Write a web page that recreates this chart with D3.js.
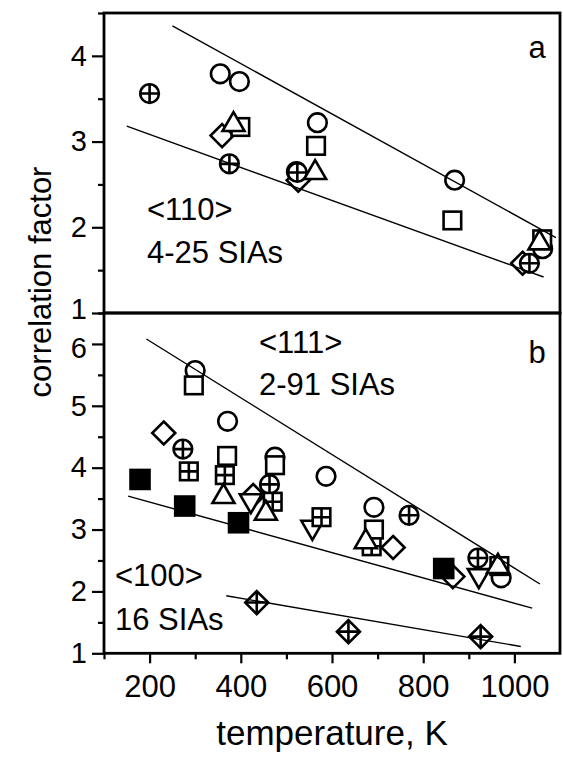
<!DOCTYPE html>
<html lang="en">
<head>
<meta charset="utf-8"/>
<style>
body { margin: 0; background: #fff; }
svg { font-family: "Liberation Sans", Arial, sans-serif; }
.axis .domain { display: none; }
</style>
</head>
<body>
<svg width="563" height="757"></svg>
<script src="https://d3js.org/d3.v7.min.js"></script>
<script>
// tick values
var xMajor = [200, 400, 600, 800, 1000];
var xMinor = [100, 300, 500, 700, 900];
var yMajorA = [1, 2, 3, 4];
var yMinorA = [1.5, 2.5, 3.5, 4.5];
var yMajorB = [1, 2, 3, 4, 5, 6];
var yMinorB = [1.5, 2.5, 3.5, 4.5, 5.5, 6.5];

// panel a : <110> clusters, [temperature, correlation factor]
var aDiamond = [[359, 3.07], [526, 2.55], [1018, 1.58]];
var aCircle = [[355, 3.79], [397, 3.70], [522, 2.65], [568, 3.22], [869, 2.55], [1062, 1.75]];
var aCirclePlus = [[200, 3.56], [375, 2.74], [524, 2.64], [1033, 1.58]];
var aSquare = [[399, 3.17], [565, 2.95], [864, 2.08], [1061, 1.86]];
var aTriangle = [[384, 3.21], [563, 2.65], [1055, 1.83]];
var aLineUpper = [[250, 4.35], [1091, 1.88]];
var aLineLower = [[150, 3.18], [1064, 1.42]];

// panel b : <111> and <100> clusters
var bDiamond = [[231, 4.56], [427, 3.55], [734, 2.71], [865, 2.24]];
var bCircle = [[300, 5.57], [371, 4.75], [475, 4.17], [587, 3.86], [692, 3.36], [971, 2.22]];
var bCirclePlus = [[273, 4.30], [463, 3.73], [769, 3.23], [920, 2.54]];
var bTriangleDown = [[422, 3.45], [557, 3.02], [922, 2.24]];
var bSquarePlus = [[286, 3.94], [365, 3.88], [470, 3.45], [577, 3.20], [687, 2.73]];
var bSquare = [[297, 5.33], [370, 4.19], [475, 4.04], [692, 3.00], [967, 2.41]];
var bTriangle = [[362, 3.55], [455, 3.28], [674, 2.82], [964, 2.42]];
var bFilledSquare = [[179, 3.81], [277, 3.38], [395, 3.11], [845, 2.37]];
var bDiamondPlus = [[435, 1.82], [636, 1.35], [926, 1.27]];
var bLineUpper = [[193, 6.08], [1056, 2.12]];
var bLineMiddle = [[153, 3.54], [1039, 1.73]];
var bLineLower = [[368, 1.93], [1014, 1.11]];

var svg = d3.select("svg"),
    left = 104, right = 560,
    topA = 13, bottomA = 313, topB = 313, bottomB = 653.3;

var x = d3.scaleLinear().domain([100, 1100]).range([left, right]);
var yA = d3.scaleLinear().domain([1, 4.5]).range([bottomA, topA]);
var yB = d3.scaleLinear().domain([1, 6.5]).range([bottomB, topB]);

// marker shapes, centred on 0,0
var shapes = {
  circle: function(g) { g.append("circle").attr("r", 9.3).attr("fill", "#fff"); },
  circlePlus: function(g) {
    g.append("circle").attr("r", 9.3).attr("fill", "#fff");
    g.append("path").attr("d", "M-9.3,0H9.3M0,-9.3V9.3").attr("fill", "none");
  },
  square: function(g) { g.append("rect").attr("x", -8.8).attr("y", -8.8).attr("width", 17.6).attr("height", 17.6).attr("fill", "#fff"); },
  squarePlus: function(g) {
    g.append("rect").attr("x", -8.8).attr("y", -8.8).attr("width", 17.6).attr("height", 17.6).attr("fill", "#fff");
    g.append("path").attr("d", "M-8.8,0H8.8M0,-8.8V8.8").attr("fill", "none");
  },
  filledSquare: function(g) { g.append("rect").attr("x", -9.5).attr("y", -9.5).attr("width", 19).attr("height", 19).attr("fill", "#000"); },
  diamond: function(g) { g.append("path").attr("d", "M0,-11.5L11.5,0L0,11.5L-11.5,0Z").attr("fill", "#fff"); },
  diamondPlus: function(g) {
    g.append("path").attr("d", "M0,-11.5L11.5,0L0,11.5L-11.5,0Z").attr("fill", "#fff");
    g.append("path").attr("d", "M-11.5,0H11.5M0,-11.5V11.5").attr("fill", "none");
  },
  triangle: function(g) { g.append("path").attr("d", "M0,-11.5L11,7.5L-11,7.5Z").attr("fill", "#fff"); },
  triangleDown: function(g) { g.append("path").attr("d", "M0,11.5L11,-7.5L-11,-7.5Z").attr("fill", "#fff"); }
};

function drawMarkers(data, shape, y) {
  svg.append("g").selectAll("g")
    .data(data)
    .enter().append("g")
    .attr("transform", function(d) { return "translate(" + x(d[0]) + "," + y(d[1]) + ")"; })
    .attr("stroke", "#000")
    .attr("stroke-width", 2.6)
    .each(function() { shapes[shape](d3.select(this)); });
}

function drawLine(data, y) {
  svg.append("path")
    .datum(data)
    .attr("fill", "none")
    .attr("stroke", "#000")
    .attr("stroke-width", 1.4)
    .attr("d", d3.line().x(function(d) { return x(d[0]); }).y(function(d) { return y(d[1]); }));
}

function styleAxis(g, size) {
  g.selectAll("line").attr("stroke-width", 2.2);
  g.selectAll("text").attr("font-size", size).attr("font-family", "Liberation Sans, Arial, sans-serif").attr("fill", "#000");
}

// the "1" of panel a and the "6" of panel b sit close together, nudge them apart
function yAxis(y, major, minor, nudge) {
  svg.append("g")
    .attr("class", "axis")
    .attr("transform", "translate(" + left + ",0)")
    .call(d3.axisLeft(y).tickValues(major).tickSize(12).tickPadding(5).tickFormat(d3.format("d")))
    .call(styleAxis, 29)
    .selectAll("text")
    .attr("dy", function(d) { return d === nudge.value ? nudge.dy : "0.32em"; });
  svg.append("g")
    .attr("class", "axis")
    .attr("transform", "translate(" + left + ",0)")
    .call(d3.axisLeft(y).tickValues(minor).tickSize(6).tickFormat(""))
    .selectAll("line").attr("stroke-width", 2.2);
}

// markers (order matters for overlaps)
drawMarkers(aDiamond, "diamond", yA);
drawMarkers(aCircle, "circle", yA);
drawMarkers(aCirclePlus, "circlePlus", yA);
drawMarkers(aSquare, "square", yA);
drawMarkers(aTriangle, "triangle", yA);

drawMarkers(bDiamond, "diamond", yB);
drawMarkers(bCircle, "circle", yB);
drawMarkers(bCirclePlus, "circlePlus", yB);
drawMarkers(bTriangleDown, "triangleDown", yB);
drawMarkers(bSquarePlus, "squarePlus", yB);
drawMarkers(bSquare, "square", yB);
drawMarkers(bTriangle, "triangle", yB);
drawMarkers(bFilledSquare, "filledSquare", yB);
drawMarkers(bDiamondPlus, "diamondPlus", yB);

// fitted lines
drawLine(aLineUpper, yA);
drawLine(aLineLower, yA);
drawLine(bLineUpper, yB);
drawLine(bLineMiddle, yB);
drawLine(bLineLower, yB);

// frames
svg.append("rect").attr("x", left).attr("y", topA).attr("width", right - left).attr("height", bottomA - topA)
  .attr("fill", "none").attr("stroke", "#000").attr("stroke-width", 2.8);
svg.append("rect").attr("x", left).attr("y", topB).attr("width", right - left).attr("height", bottomB - topB)
  .attr("fill", "none").attr("stroke", "#000").attr("stroke-width", 2.8);

yAxis(yA, yMajorA, yMinorA, {value: 1, dy: "0.18em"});
yAxis(yB, yMajorB, yMinorB, {value: 6, dy: "0.46em"});

// x axis
svg.append("g")
  .attr("class", "axis")
  .attr("transform", "translate(0," + bottomB + ")")
  .call(d3.axisBottom(x).tickValues(xMajor).tickSize(10).tickPadding(12).tickFormat(d3.format("d")))
  .call(styleAxis, 31);
svg.append("g")
  .attr("class", "axis")
  .attr("transform", "translate(0," + bottomB + ")")
  .call(d3.axisBottom(x).tickValues(xMinor).tickSize(6).tickFormat(""))
  .selectAll("line").attr("stroke-width", 2.2);

// axis titles
svg.append("text")
  .attr("x", (left + right) / 2)
  .attr("y", 745)
  .attr("text-anchor", "middle")
  .attr("font-size", 35)
  .text("temperature, K");

svg.append("text")
  .attr("transform", "translate(51,282) rotate(-90)")
  .attr("text-anchor", "middle")
  .attr("font-size", 31)
  .text("correlation factor");

// annotations
var notes = [
  {t: "a", x: 537, y: 58, anchor: "middle"},
  {t: "<110>", x: 147, y: 220, anchor: "start"},
  {t: "4-25 SIAs", x: 147, y: 263, anchor: "start"},
  {t: "b", x: 537, y: 363, anchor: "middle"},
  {t: "<111>", x: 259, y: 353, anchor: "start"},
  {t: "2-91 SIAs", x: 259, y: 395, anchor: "start"},
  {t: "<100>", x: 115, y: 586, anchor: "start"},
  {t: "16 SIAs", x: 115, y: 630, anchor: "start"}
];
svg.append("g").selectAll("text")
  .data(notes)
  .enter().append("text")
  .attr("x", function(d) { return d.x; })
  .attr("y", function(d) { return d.y; })
  .attr("text-anchor", function(d) { return d.anchor; })
  .attr("font-size", 31)
  .text(function(d) { return d.t; });
</script>
</body>
</html>
